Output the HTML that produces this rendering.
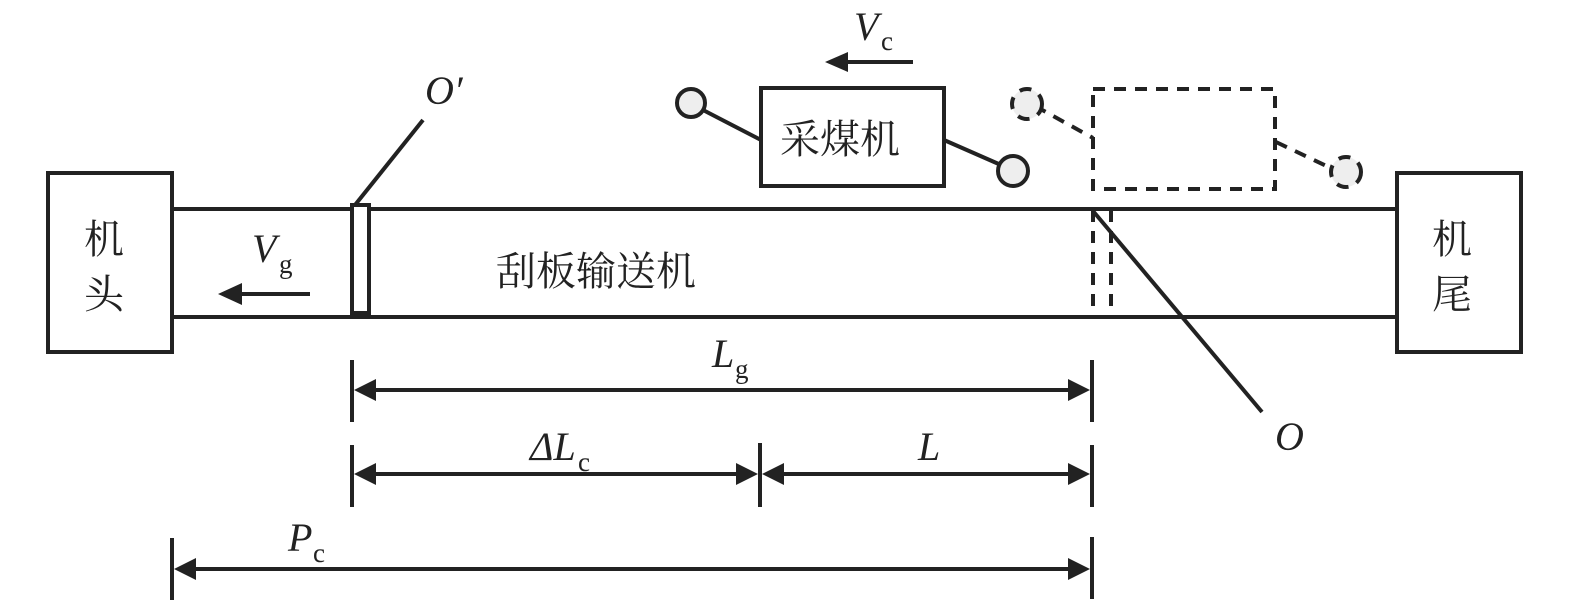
<!DOCTYPE html>
<html><head><meta charset="utf-8"><style>
html,body{margin:0;padding:0;background:#fff}
svg{display:block}
.cn{font-family:"Liberation Serif","Noto Serif CJK SC","Noto Sans CJK SC",serif;font-size:40px;fill:#222}
.it{font-family:"Liberation Serif",serif;font-style:italic;font-size:40px;fill:#222}
.sb{font-family:"Liberation Serif",serif;font-size:27px;fill:#222}
</style></head><body>
<svg width="1575" height="604" viewBox="0 0 1575 604" xmlns="http://www.w3.org/2000/svg">
<g stroke="#222" stroke-width="4" fill="none">
<rect x="48" y="173" width="124" height="179"/>
<rect x="1397" y="173" width="124" height="179"/>
<line x1="172" y1="209" x2="1397" y2="209"/>
<line x1="172" y1="317" x2="1397" y2="317"/>
<rect x="352" y="205" width="17" height="108" fill="#fff"/>
<line x1="355" y1="205" x2="423" y2="120"/>
<rect x="761" y="88" width="183" height="98"/>
<line x1="703" y1="110" x2="761" y2="140"/>
<line x1="944" y1="140" x2="1001" y2="165"/>
<circle cx="691" cy="103" r="14" fill="#eee"/>
<circle cx="1013" cy="171" r="15" fill="#eee"/>
<g stroke-dasharray="12,9">
<rect x="1093" y="89" width="182" height="100"/>
<line x1="1093" y1="210" x2="1093" y2="317"/>
<line x1="1111" y1="210" x2="1111" y2="312"/>
<line x1="1035" y1="106" x2="1093" y2="138"/>
<line x1="1276" y1="142" x2="1335" y2="170"/>
<circle cx="1027" cy="104" r="15" fill="#eee"/>
<circle cx="1346" cy="172" r="15" fill="#eee"/>
</g>
<line x1="1093" y1="211" x2="1262" y2="412"/>
<line x1="913" y1="62" x2="845" y2="62"/>
<line x1="310" y1="294" x2="240" y2="294"/>
<line x1="352" y1="360" x2="352" y2="422"/>
<line x1="352" y1="445" x2="352" y2="507"/>
<line x1="1092" y1="360" x2="1092" y2="422"/>
<line x1="1092" y1="445" x2="1092" y2="507"/>
<line x1="1092" y1="537" x2="1092" y2="599"/>
<line x1="760" y1="443" x2="760" y2="507"/>
<line x1="172" y1="538" x2="172" y2="600"/>
<line x1="370" y1="390" x2="1074" y2="390"/>
<line x1="370" y1="474" x2="742" y2="474"/>
<line x1="778" y1="474" x2="1074" y2="474"/>
<line x1="190" y1="569" x2="1074" y2="569"/>
</g>
<g fill="#222">
<polygon points="825,62 848,52 848,72"/>
<polygon points="218,294 242,283 242,305"/>
<polygon points="354,390 376,379 376,401"/>
<polygon points="1090,390 1068,379 1068,401"/>
<polygon points="354,474 376,463 376,485"/>
<polygon points="758,474 736,463 736,485"/>
<polygon points="762,474 784,463 784,485"/>
<polygon points="1090,474 1068,463 1068,485"/>
<polygon points="174,569 196,558 196,580"/>
<polygon points="1090,569 1068,558 1068,580"/>
</g>
<text class="cn" x="84" y="253">机</text>
<text class="cn" x="84" y="308">头</text>
<text class="cn" x="1432" y="253">机</text>
<text class="cn" x="1432" y="308">尾</text>
<text class="cn" x="780" y="153">采煤机</text>
<text class="cn" x="496" y="285">刮板输送机</text>
<text class="it" x="252" y="262">V</text><text class="sb" x="279" y="273">g</text>
<text class="it" x="854" y="40">V</text><text class="sb" x="881" y="50">c</text>
<text class="it" x="425" y="104">O′</text>
<text class="it" x="1275" y="450">O</text>
<text class="it" x="712" y="367">L</text><text class="sb" x="735" y="378">g</text>
<text class="it" x="530" y="460">ΔL</text><text class="sb" x="578" y="471">c</text>
<text class="it" x="918" y="460">L</text>
<text class="it" x="288" y="551">P</text><text class="sb" x="313" y="562">c</text>
</svg>
</body></html>
